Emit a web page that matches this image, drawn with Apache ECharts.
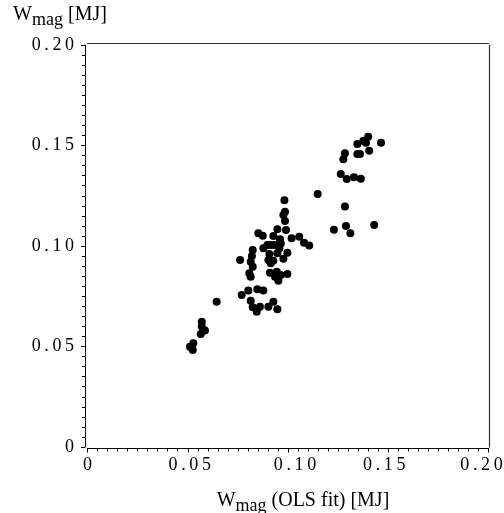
<!DOCTYPE html>
<html>
<head>
<meta charset="utf-8">
<script src="https://cdn.jsdelivr.net/npm/echarts@6/dist/echarts.min.js"></script>
<style>html,body{margin:0;padding:0;background:#fff}#c{width:504px;height:513px}</style>
</head>
<body>
<div id="c"></div>
<script>
// W_mag (OLS fit) [MJ]
var xValues = [
  0.0982,0.0985,0.0977,0.0985,0.0947,0.0990,0.0852,0.0874,0.0927,0.0960,
  0.1018,0.1056,0.1080,0.1106,0.0964,0.0897,0.0914,0.0930,0.0947,0.0877,
  0.0824,0.0957,0.0997,0.0907,0.0947,0.0820,0.0761,0.0814,0.0902,0.0927,
  0.0977,0.0914,0.0824,0.0807,0.0814,0.0910,0.0944,0.0935,0.0964,0.0997,
  0.0952,0.0847,0.0877,0.0802,0.0769,0.0814,0.0824,0.0860,0.0844,0.0902,
  0.0927,0.0947,0.0644,0.0570,0.0570,0.0586,0.0565,0.0528,0.0511,0.0525,
  0.1400,0.1376,0.1389,0.1346,0.1464,0.1405,0.1346,0.1359,0.1284,0.1276,
  0.1263,0.1293,0.1329,0.1363,0.1148,0.1284,0.1430,0.1229,0.1289,0.1311
];
// W_mag [MJ]
var yValues = [
  0.1227,0.1171,0.1154,0.1124,0.1083,0.1080,0.1063,0.1051,0.1050,0.1033,
  0.1038,0.1046,0.1016,0.1003,0.1013,0.1005,0.1005,0.1005,0.1005,0.0989,
  0.0980,0.0989,0.0967,0.0960,0.0964,0.0950,0.0930,0.0922,0.0930,0.0927,
  0.0937,0.0914,0.0897,0.0864,0.0847,0.0867,0.0872,0.0847,0.0856,0.0861,
  0.0827,0.0785,0.0778,0.0778,0.0756,0.0728,0.0695,0.0698,0.0673,0.0698,
  0.0723,0.0685,0.0723,0.0623,0.0599,0.0579,0.0562,0.0516,0.0499,0.0483,
  0.1544,0.1524,0.1514,0.1507,0.1514,0.1474,0.1458,0.1458,0.1461,0.1431,
  0.1358,0.1333,0.1342,0.1335,0.1259,0.1196,0.1104,0.1081,0.1100,0.1063
];
var tickLabels = ['0', '0.05', '0.10', '0.15', '0.20'];

var points = xValues.map(function (x, i) { return [x, yValues[i]]; });
var FONT = '"Liberation Serif", "Times New Roman", serif';
var TS = '\u2009';

function spaced(s) { return s.split('').join(TS); }

function fmtY(v) {
  var s = tickLabels[Math.round(v / 0.05)];
  return s === undefined ? '' : spaced(s);
}
// x tick labels: small per-label horizontal nudges seen in the reference
var xStyleKeys = ['c', 'r2', 'r7', 'l4', 'l7'];
function fmtX(v) {
  var i = Math.round(v / 0.05);
  var s = tickLabels[i];
  if (s === undefined) return '';
  return '{' + xStyleKeys[i] + '|' + spaced(s) + '}';
}
function lab(padL, padR) {
  return { fontFamily: FONT, fontSize: 18, color: '#000', padding: [0, padR, 0, padL] };
}
var xRich = { c: lab(0, 0), r2: lab(4, 0), r7: lab(14, 0), l4: lab(0, 8), l7: lab(0, 14) };

var nameRich = {
  w: { fontFamily: FONT, fontSize: 20, color: '#000' },
  s: { fontFamily: FONT, fontSize: 18, color: '#000', padding: [11, 0, 0, 0] }
};
var SUB = 'mag';

var chart = echarts.init(document.getElementById('c'), null, { renderer: 'canvas' });
chart.setOption({
  animation: false,
  backgroundColor: '#fff',
  grid: { left: 87.5, right: 15.5, top: 45, bottom: 66, containLabel: false, outerBoundsMode: 'none' },
  xAxis: [{
    type: 'value', min: 0, max: 0.2, interval: 0.05, offset: 1.5,
    name: '{w|W}{s|' + SUB + '}{w| (OLS fit) [MJ]}',
    nameLocation: 'middle', nameGap: 38,
    nameTextStyle: { rich: nameRich, padding: [0, 0, 0, 30] },
    axisLine: { show: true, onZero: false, lineStyle: { color: '#000', width: 1 } },
    axisTick: { show: true, inside: false, length: 4, lineStyle: { color: '#000' } },
    minorTick: { show: true, splitNumber: 10, length: 3, lineStyle: { color: '#000' } },
    axisLabel: { formatter: fmtX, rich: xRich, fontFamily: FONT, fontSize: 18, color: '#000', margin: 8 },
    splitLine: { show: false }
  }, {
    type: 'value', min: 0, max: 0.2, position: 'top', offset: 2,
    axisLine: { show: true, onZero: false, lineStyle: { color: '#333', width: 1.2 } },
    axisTick: { show: false }, axisLabel: { show: false }, splitLine: { show: false }
  }],
  yAxis: [{
    type: 'value', min: 0, max: 0.2, interval: 0.05, offset: 2.5,
    name: '{w|W}{s|' + SUB + '}{w| [MJ]}',
    nameLocation: 'end', nameGap: 16,
    nameTextStyle: { rich: nameRich, align: 'center', padding: [0, 50, 0, 0] },
    axisLine: { show: true, onZero: false, lineStyle: { color: '#000', width: 1 } },
    axisTick: { show: true, inside: false, length: 4, lineStyle: { color: '#000' } },
    minorTick: { show: true, splitNumber: 10, length: 3, lineStyle: { color: '#000' } },
    axisLabel: { formatter: fmtY, fontFamily: FONT, fontSize: 18, color: '#000', margin: 11 },
    splitLine: { show: false }
  }, {
    type: 'value', min: 0, max: 0.2, position: 'right', offset: 0.5,
    axisLine: { show: true, onZero: false, lineStyle: { color: '#333', width: 1.2 } },
    axisTick: { show: false }, axisLabel: { show: false }, splitLine: { show: false }
  }],
  series: [{
    type: 'scatter',
    data: points,
    symbol: 'circle',
    symbolSize: 8,
    itemStyle: { color: '#000', opacity: 1 }
  }]
});
</script>
</body>
</html>
